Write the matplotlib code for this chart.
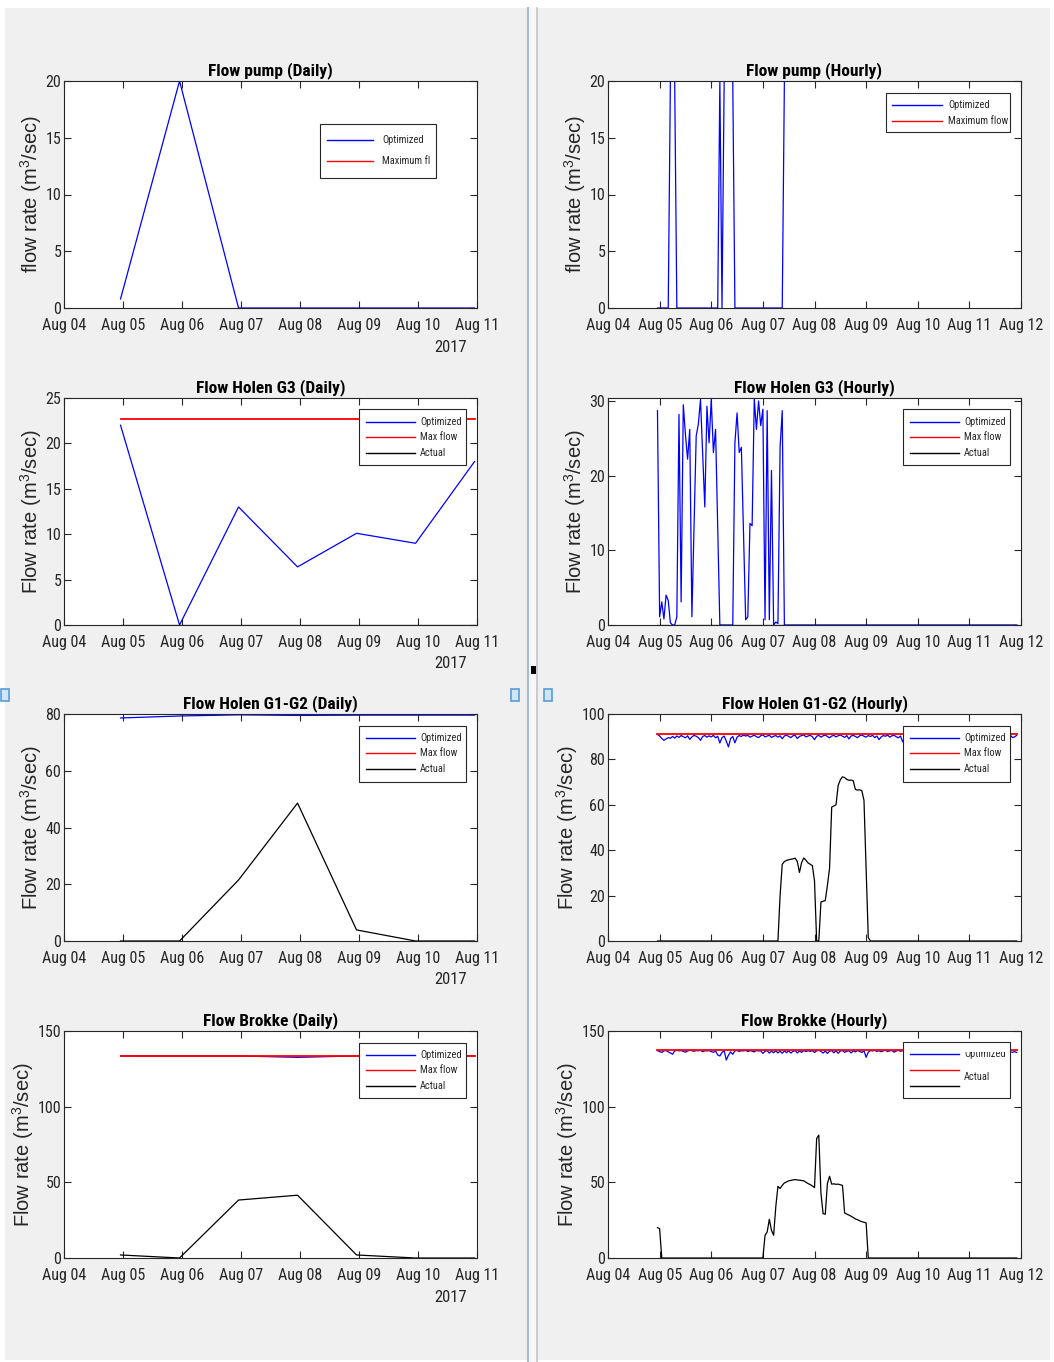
import numpy as np
import matplotlib.pyplot as plt
import matplotlib.dates as mdates
from matplotlib import font_manager
from matplotlib.patches import Rectangle
from matplotlib.lines import Line2D
from datetime import datetime, timedelta

W, H = 1054, 1362
INK = '#262626'

# --- pick a narrow face if one is installed (the source text is horizontally squeezed) ---
_fonts = font_manager.fontManager.ttflist
_names = {f.name for f in _fonts}
NARROW_FAMILY = None
NARROW_STRETCH = 'normal'
for cand in ['Liberation Sans Narrow', 'Roboto Condensed', 'Open Sans Condensed', 'Noto Sans Condensed']:
    if cand in _names:
        NARROW_FAMILY = cand
        break
if NARROW_FAMILY is None:
    for f in _fonts:
        if f.name in ('Noto Sans', 'Open Sans', 'Roboto', 'DejaVu Sans') and 'condensed' in str(f.stretch):
            NARROW_FAMILY = f.name
            NARROW_STRETCH = 'condensed'
            break

if NARROW_FAMILY is not None:
    TXT = [NARROW_FAMILY, 'Liberation Sans', 'DejaVu Sans']
    TICK_FS, TITLE_FS, LEG_FS = 11.5, 12.5, 7.5
else:
    TXT = ['Liberation Sans', 'DejaVu Sans']
    TICK_FS, TITLE_FS, LEG_FS = 10, 11, 6.5

plt.rcParams['font.family'] = TXT
plt.rcParams['font.stretch'] = NARROW_STRETCH
plt.rcParams['mathtext.fontset'] = 'custom'
plt.rcParams['mathtext.rm'] = 'Liberation Sans'
plt.rcParams['mathtext.it'] = 'Liberation Sans:italic'

# ====== time axes ======
t0 = datetime(2017, 8, 4, 23)
daily_t = [t0 + timedelta(days=k) for k in range(7)]
hourly_t = [t0 + timedelta(hours=k) for k in range(168)]
daily_xlim = (datetime(2017, 8, 4), datetime(2017, 8, 11))
hourly_xlim = (datetime(2017, 8, 4), datetime(2017, 8, 12))
daily_ticks = [datetime(2017, 8, d) for d in range(4, 12)]
hourly_ticks = [datetime(2017, 8, d) for d in range(4, 13)]

# ====== daily data ======
pump_daily_opt = [0.8, 20, 0, 0, 0, 0, 0]
pump_max = 20.0
g3_daily_opt = [22.0, 0.0, 13.0, 6.4, 10.1, 9.0, 18.0]
g3_daily_act = [0, 0, 0, 0, 0, 0, 0]
g3_daily_max = 22.7
g12_daily_opt = [78.6, 79.3, 79.7, 79.5, 79.6, 79.6, 79.6]
g12_daily_act = [0.0, 0.0, 21.5, 48.6, 3.9, 0.0, 0.0]
g12_daily_max = 79.9
brk_daily_opt = [133.5, 133.5, 133.5, 132.6, 133.5, 133.6, 133.6]
brk_daily_act = [2.0, 0.0, 38.3, 41.5, 2.0, 0.0, 0.0]
brk_daily_max = 133.7

# ====== hourly data (rows of 24 h, each row starts 23:00 the day before) ======
ZERO_DAY = [0, 0, 0, 0, 0, 0, 0, 0, 0, 0, 0, 0, 0, 0, 0, 0, 0, 0, 0, 0, 0, 0, 0, 0]
FULL_PUMP = [20, 20, 20, 20, 20, 20, 20, 20, 20, 20, 20, 20, 20, 20, 20, 20, 20, 20, 20, 20, 20, 20, 20, 20]

pump_hourly_opt = [
    [0, 0, 0, 0, 0, 0, 20, 20, 20, 0, 0, 0, 0, 0, 0, 0, 0, 0, 0, 0, 0, 0, 0, 0],
    [0, 0, 0, 0, 0, 20, 0, 20, 20, 20, 20, 20, 0, 0, 0, 0, 0, 0, 0, 0, 0, 0, 0, 0],
    [0, 0, 0, 0, 0, 0, 0, 0, 0, 0, 0, 20, 20, 20, 20, 20, 20, 20, 20, 20, 20, 20, 20, 20],
    FULL_PUMP, FULL_PUMP, FULL_PUMP, FULL_PUMP,
]

g3_hourly_opt = [
    [28.7, 1.1, 3.1, 0.8, 4.0, 3.3, 0.3, 0, 0, 1.1, 28.2, 3.1, 29.5, 25.5, 22.2, 26.2, 1.1, 13.0, 25.3, 26.9, 30.2, 23.0, 15.8, 29.3],
    [24.4, 30.2, 23.1, 26.2, 13.0, 0, 0, 0, 0, 0, 0, 0, 24.4, 28.4, 23.1, 23.8, 12.0, 0.7, 1.1, 13.6, 13.3, 30.3, 26.2, 30.0],
    [26.7, 28.9, 0.7, 28.7, 0.7, 20.7, 0, 0.4, 0.2, 23.8, 28.7, 0, 0, 0, 0, 0, 0, 0, 0, 0, 0, 0, 0, 0],
    ZERO_DAY, ZERO_DAY, ZERO_DAY, ZERO_DAY,
]
g3_hourly_act = [ZERO_DAY] * 7
g3_hourly_max = 30.4

g12_hourly_opt = [
    [91.0, 90.3, 89.2, 88.4, 89.0, 89.6, 89.3, 90.1, 89.4, 90.3, 89.7, 90.5, 90.0, 89.5, 90.4, 88.8, 89.9, 90.6, 90.2, 89.6, 88.4, 90.1, 90.5, 89.8],
    [90.4, 89.9, 90.6, 89.5, 90.2, 87.2, 89.6, 90.3, 88.0, 85.5, 89.2, 90.1, 87.3, 89.8, 90.5, 90.1, 90.7, 90.3, 90.6, 89.8, 90.2, 90.7, 90.0, 89.6],
    [90.4, 90.8, 89.9, 90.3, 90.6, 89.7, 90.2, 90.5, 89.8, 90.4, 89.1, 90.3, 90.7, 90.1, 89.6, 90.4, 90.6, 89.2, 90.1, 90.5, 90.8, 89.9, 90.3, 90.6],
    [90.0, 88.7, 90.2, 90.6, 89.8, 90.4, 90.7, 90.1, 89.5, 90.3, 90.6, 89.9, 90.4, 90.8, 90.2, 89.7, 90.5, 89.0, 90.3, 90.6, 90.1, 89.6, 90.4, 90.7],
    [90.2, 89.8, 90.5, 90.1, 90.6, 89.6, 90.3, 88.7, 89.9, 90.5, 90.2, 90.7, 89.8, 90.4, 90.6, 90.0, 89.5, 90.3, 87.7, 89.6, 90.4, 90.7, 90.1, 90.5],
    [90.3, 90.6, 89.9, 90.4, 90.7, 90.1, 89.7, 90.5, 90.2, 90.6, 89.8, 90.3, 90.7, 90.0, 90.4, 89.6, 90.5, 90.8, 90.2, 89.9, 90.4, 90.6, 90.1, 90.5],
    [90.2, 90.7, 89.8, 90.4, 90.6, 90.0, 89.7, 90.5, 90.3, 90.7, 89.9, 90.4, 90.6, 90.1, 89.8, 90.5, 90.3, 90.6, 89.9, 90.4, 90.7, 89.6, 89.9, 90.6],
]
g12_hourly_act = [
    ZERO_DAY, ZERO_DAY,
    [0, 0, 0, 0, 0, 0, 0, 0, 0, 20.0, 33.8, 35.0, 35.5, 35.8, 36.0, 36.2, 36.5, 35.0, 30.2, 34.5, 36.6, 35.6, 34.4, 33.8],
    [33.2, 26.5, 0, 0, 17.2, 17.5, 17.8, 24.5, 32.0, 59.0, 59.5, 60.0, 68.5, 71.0, 72.3, 72.0, 71.2, 70.8, 70.9, 70.6, 66.8, 66.5, 66.6, 66.2],
    [62.0, 31.0, 1.5, 0, 0, 0, 0, 0, 0, 0, 0, 0, 0, 0, 0, 0, 0, 0, 0, 0, 0, 0, 0, 0],
    ZERO_DAY, ZERO_DAY,
]
g12_hourly_max = 91.2

brk_hourly_opt = [
    [137.0, 136.4, 135.8, 136.9, 137.1, 136.2, 135.5, 134.6, 136.8, 137.2, 136.9, 137.1, 136.5, 136.0, 136.8, 137.2, 137.0, 136.6, 137.1, 136.9, 137.2, 136.3, 137.0, 136.8],
    [137.1, 136.4, 135.9, 136.8, 134.2, 133.5, 135.8, 137.0, 130.8, 134.0, 136.2, 134.6, 136.9, 137.1, 136.5, 137.0, 136.8, 137.2, 136.4, 137.0, 136.7, 136.2, 137.1, 136.8],
    [136.9, 135.2, 136.6, 137.0, 135.4, 136.8, 135.6, 136.9, 135.5, 136.7, 135.3, 136.8, 135.7, 136.9, 135.4, 136.6, 137.0, 135.5, 136.8, 135.9, 137.1, 136.4, 137.0, 136.5],
    [137.1, 135.8, 136.9, 137.2, 136.6, 135.4, 136.8, 135.2, 136.7, 137.0, 135.6, 136.9, 135.3, 136.8, 137.1, 135.9, 136.6, 137.0, 135.5, 136.8, 136.2, 137.1, 136.5, 135.8],
    [136.9, 132.6, 136.0, 137.1, 136.8, 137.2, 136.5, 137.0, 136.3, 136.9, 137.2, 136.4, 136.9, 137.1, 136.0, 136.8, 137.2, 136.6, 137.0, 136.4, 136.9, 137.1, 136.5, 137.0],
    [136.8, 137.2, 136.5, 136.9, 137.1, 136.6, 137.0, 136.3, 136.8, 137.2, 136.7, 137.0, 136.4, 136.9, 137.1, 136.6, 137.0, 136.8, 137.2, 136.5, 136.9, 137.1, 136.4, 136.8],
    [137.0, 136.5, 136.9, 137.2, 136.6, 137.0, 136.4, 136.8, 137.1, 136.7, 137.0, 136.5, 136.9, 137.2, 136.6, 136.8, 137.1, 136.4, 136.9, 137.0, 136.2, 135.9, 136.4, 135.8],
]
brk_hourly_act = [
    [20.1, 19.4, 0, 0, 0, 0, 0, 0, 0, 0, 0, 0, 0, 0, 0, 0, 0, 0, 0, 0, 0, 0, 0, 0],
    ZERO_DAY,
    [0, 0, 15.0, 17.2, 25.6, 18.3, 15.0, 33.8, 47.4, 45.9, 48.0, 49.6, 50.3, 51.0, 51.3, 51.6, 51.8, 51.6, 51.4, 51.2, 51.0, 50.1, 49.2, 48.5],
    [47.6, 46.5, 79.0, 81.2, 42.6, 29.3, 28.9, 49.2, 54.0, 48.8, 49.0, 48.7, 48.8, 48.4, 48.0, 29.8, 29.0, 28.4, 27.6, 26.8, 25.8, 25.3, 24.6, 24.0],
    [23.6, 23.2, 0, 0, 0, 0, 0, 0, 0, 0, 0, 0, 0, 0, 0, 0, 0, 0, 0, 0, 0, 0, 0, 0],
    ZERO_DAY, ZERO_DAY,
]
brk_hourly_max = 137.7


def flat(rows):
    return np.concatenate([np.asarray(r, dtype=float) for r in rows])


# ====== figure ======
fig = plt.figure(figsize=(W / 100, H / 100), dpi=100)
fig.patch.set_facecolor('white')


def fx(x):
    return x / W


def fy(y):
    return 1 - y / H


fig.add_artist(Rectangle((fx(5), fy(1360)), fx(1045), 1352 / H, transform=fig.transFigure,
                         facecolor='#f0f0f0', edgecolor='none', zorder=-5))
fig.add_artist(Rectangle((fx(529), fy(1362)), fx(7), 1354 / H, transform=fig.transFigure,
                         facecolor='#f8f8f8', edgecolor='none', zorder=-4))
fig.add_artist(Line2D([fx(528), fx(528)], [fy(8), fy(1362)], transform=fig.transFigure,
                      color='#a3bbd8', lw=1.5, zorder=-3))
fig.add_artist(Line2D([fx(536.5), fx(536.5)], [fy(8), fy(1362)], transform=fig.transFigure,
                      color='#c4c4c4', lw=1.2, zorder=-3))
fig.add_artist(Rectangle((fx(531), fy(674)), fx(5), 8 / H, transform=fig.transFigure,
                         facecolor='black', edgecolor='none', zorder=6))
for sx in (1, 511, 544):
    fig.add_artist(Rectangle((fx(sx), fy(701)), fx(8), 12 / H, transform=fig.transFigure,
                             facecolor='#cfe6fa', edgecolor='#5b9bd5', lw=1.2, zorder=6))

ROW_TOP = [81, 398, 714, 1031]
COL_LEFT = [64, 608]


def make_axes(col, row):
    return fig.add_axes([fx(COL_LEFT[col]), fy(ROW_TOP[row] + 227), fx(413), 227 / H])


def style(ax, title, ylabel, ylim, yticks, hourly):
    ax.set_ylim(ylim)
    ax.set_yticks(yticks)
    if hourly:
        ax.set_xlim(hourly_xlim)
        ax.set_xticks(hourly_ticks)
    else:
        ax.set_xlim(daily_xlim)
        ax.set_xticks(daily_ticks)
        ax.text(0.976, -39 / 227, '2017', transform=ax.transAxes, ha='right', va='center',
                fontsize=TICK_FS + 0.5, color=INK)
    ax.xaxis.set_major_formatter(mdates.DateFormatter('%b %d'))
    ax.tick_params(direction='in', length=5, width=0.8, top=True, right=True,
                   colors=INK, labelsize=TICK_FS)
    ax.tick_params(axis='x', pad=7)
    ax.tick_params(axis='y', pad=2)
    for s in ax.spines.values():
        s.set_color(INK)
        s.set_linewidth(0.8)
    ax.set_title(title, fontsize=TITLE_FS, fontweight='bold', pad=4)
    ax.set_ylabel(ylabel, fontsize=14.5, color=INK, labelpad=1,
                  family=['Liberation Sans', 'DejaVu Sans'], stretch='normal')


def legend_box(x0, y0, x1, y1, lx0, lx1, tx, entries):
    fig.add_artist(Rectangle((fx(x0), fy(y1)), fx(x1 - x0), (y1 - y0) / H, transform=fig.transFigure,
                             facecolor='white', edgecolor=INK, lw=0.8, zorder=4))
    for color, label, ly in entries:
        fig.add_artist(Line2D([fx(lx0), fx(lx1)], [fy(ly), fy(ly)], transform=fig.transFigure,
                              color=color, lw=1.0, zorder=5))
        if label:
            fig.text(fx(tx), fy(ly), label, fontsize=LEG_FS, va='center', ha='left', color=INK, zorder=5)


LBL_LOW = r'flow rate (m$^3$/sec)'
LBL = r'Flow rate (m$^3$/sec)'

# --- Flow pump ---
ax = make_axes(0, 0)
ax.plot(daily_t, pump_daily_opt, color='blue', lw=0.9)
ax.plot(daily_t, np.full(7, pump_max), color='red', lw=1.3)
style(ax, 'Flow pump (Daily)', LBL_LOW, (0, 20), [0, 5, 10, 15, 20], False)
legend_box(320, 124, 436, 178, 327, 373, 382,
           [('blue', 'Optimized', 140), ('red', 'Maximum fl', 161)])

ax = make_axes(1, 0)
ax.plot(hourly_t, flat(pump_hourly_opt), color='blue', lw=0.9)
ax.plot(hourly_t, np.full(168, pump_max), color='red', lw=1.3)
style(ax, 'Flow pump (Hourly)', LBL_LOW, (0, 20), [0, 5, 10, 15, 20], True)
legend_box(886, 93, 1010, 132, 892, 942, 948,
           [('blue', 'Optimized', 105), ('red', 'Maximum flow', 121)])

# --- Flow Holen G3 ---
ax = make_axes(0, 1)
ax.plot(daily_t, g3_daily_opt, color='blue', lw=0.9)
ax.plot(daily_t, np.full(7, g3_daily_max), color='red', lw=1.3)
ax.plot(daily_t, g3_daily_act, color='black', lw=0.9)
style(ax, 'Flow Holen G3 (Daily)', LBL, (0, 25), [0, 5, 10, 15, 20, 25], False)
legend_box(359, 409, 466, 465, 366, 415, 420,
           [('blue', 'Optimized', 422), ('red', 'Max flow', 437), ('black', 'Actual', 453)])

ax = make_axes(1, 1)
ax.plot(hourly_t, flat(g3_hourly_opt), color='blue', lw=0.9)
ax.plot(hourly_t, np.full(168, g3_hourly_max), color='red', lw=1.3)
ax.plot(hourly_t, flat(g3_hourly_act), color='black', lw=0.9)
style(ax, 'Flow Holen G3 (Hourly)', LBL, (0, 30.4), [0, 10, 20, 30], True)
legend_box(903, 409, 1010, 465, 910, 959, 964,
           [('blue', 'Optimized', 422), ('red', 'Max flow', 437), ('black', 'Actual', 453)])

# --- Flow Holen G1-G2 ---
ax = make_axes(0, 2)
ax.plot(daily_t, g12_daily_opt, color='blue', lw=0.9)
ax.plot(daily_t, np.full(7, g12_daily_max), color='red', lw=1.3)
ax.plot(daily_t, g12_daily_act, color='black', lw=0.9)
style(ax, 'Flow Holen G1-G2 (Daily)', LBL, (0, 80), [0, 20, 40, 60, 80], False)
legend_box(359, 726, 466, 782, 366, 415, 420,
           [('blue', 'Optimized', 738), ('red', 'Max flow', 753), ('black', 'Actual', 769)])

ax = make_axes(1, 2)
ax.plot(hourly_t, flat(g12_hourly_opt), color='blue', lw=0.9)
ax.plot(hourly_t, np.full(168, g12_hourly_max), color='red', lw=1.3)
ax.plot(hourly_t, flat(g12_hourly_act), color='black', lw=0.9)
style(ax, 'Flow Holen G1-G2 (Hourly)', LBL, (0, 100), [0, 20, 40, 60, 80, 100], True)
legend_box(903, 726, 1010, 782, 910, 959, 964,
           [('blue', 'Optimized', 738), ('red', 'Max flow', 753), ('black', 'Actual', 769)])

# --- Flow Brokke ---
ax = make_axes(0, 3)
ax.plot(daily_t, brk_daily_opt, color='blue', lw=0.9)
ax.plot(daily_t, np.full(7, brk_daily_max), color='red', lw=1.3)
ax.plot(daily_t, brk_daily_act, color='black', lw=0.9)
style(ax, 'Flow Brokke (Daily)', LBL, (0, 150), [0, 50, 100, 150], False)
legend_box(359, 1043, 466, 1098, 366, 415, 420,
           [('blue', 'Optimized', 1055), ('red', 'Max flow', 1070), ('black', 'Actual', 1086)])

ax = make_axes(1, 3)
ax.plot(hourly_t, flat(brk_hourly_opt), color='blue', lw=0.9)
ax.plot(hourly_t, np.full(168, brk_hourly_max), color='red', lw=1.3)
ax.plot(hourly_t, flat(brk_hourly_act), color='black', lw=0.9)
style(ax, 'Flow Brokke (Hourly)', LBL, (0, 150), [0, 50, 100, 150], True)
legend_box(903, 1042, 1010, 1098, 910, 959, 964,
           [('blue', None, 1054), ('red', None, 1070), ('black', None, 1086)])
clip = Rectangle((fx(903), fy(1098)), fx(107), (1098 - 1052) / H, transform=fig.transFigure,
                 facecolor='none', edgecolor='none')
t = fig.text(fx(964), fy(1054), 'Optimized', fontsize=LEG_FS, va='center', ha='left', color=INK, zorder=5)
t.set_clip_path(clip)
fig.text(fx(964), fy(1077), 'Actual', fontsize=LEG_FS, va='center', ha='left', color=INK, zorder=5)

fig.savefig('out.png', dpi=100)
